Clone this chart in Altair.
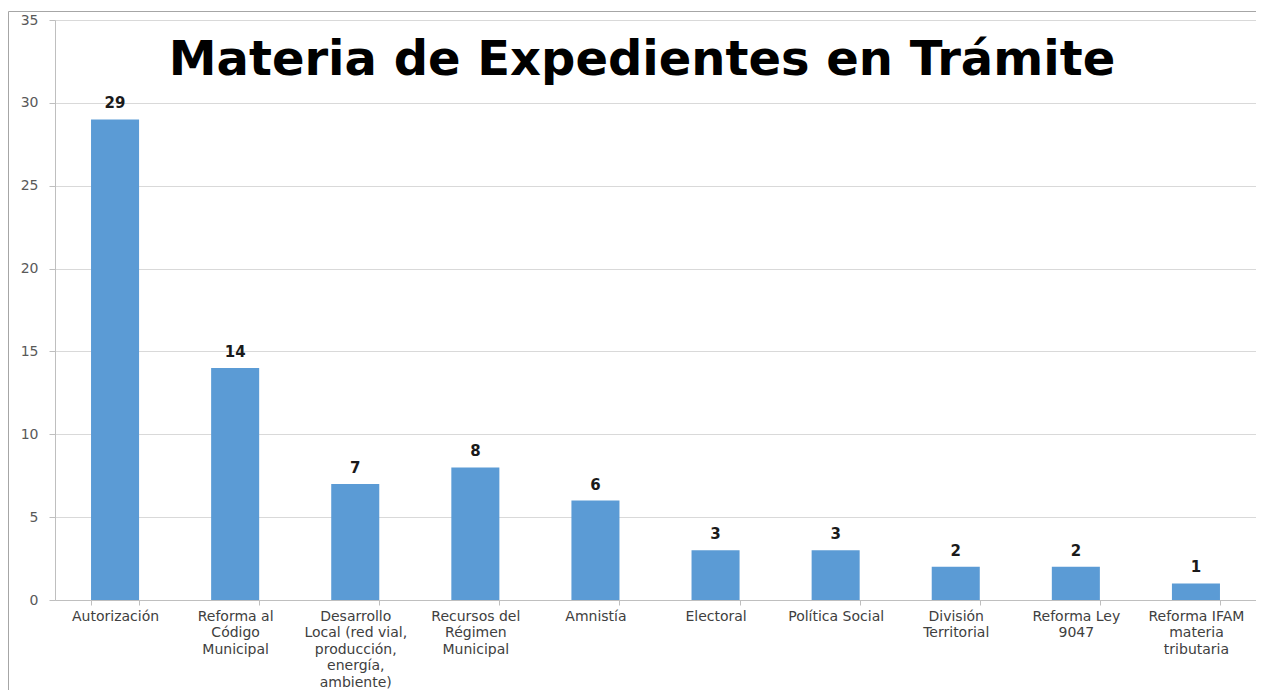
import altair as alt
import pandas as pd

categories = [
    "Autorización",
    "Reforma al|Código|Municipal",
    "Desarrollo|Local (red vial,|producción,|energía,|ambiente)",
    "Recursos del|Régimen|Municipal",
    "Amnistía",
    "Electoral",
    "Política Social",
    "División|Territorial",
    "Reforma Ley|9047",
    "Reforma IFAM|materia|tributaria",
]
values = [29, 14, 7, 8, 6, 3, 3, 2, 2, 1]
title_text = ["Materia de Expedientes en Trámite"]

df = pd.DataFrame({"cat": categories, "val": values})
W, H = 1201, 580
FONT = "DejaVu Sans"

x_enc = alt.X(
    "cat:N",
    sort=categories,
    title=None,
    scale=alt.Scale(paddingInner=0.6, paddingOuter=0.3),
    axis=alt.Axis(
        labelExpr="isValid(datum.value) ? split(datum.value, '|') : ''",
        labelAngle=0,
        labelFont=FONT,
        labelFontSize=14,
        labelColor="#404040",
        labelLineHeight=16.5,
        labelPadding=4,
        tickBand="extent",
        tickSize=5,
        tickColor="#bfbfbf",
        domainColor="#bfbfbf",
        labelLimit=200,
        grid=False,
    ),
)
y_enc = alt.Y(
    "val:Q",
    title=None,
    scale=alt.Scale(domain=[0, 35], nice=False),
    axis=alt.Axis(
        values=[0, 5, 10, 15, 20, 25, 30, 35],
        labelFont=FONT,
        labelFontSize=14,
        labelColor="#595959",
        labelPadding=11,
        tickSize=6,
        tickColor="#bfbfbf",
        domainColor="#bfbfbf",
        gridColor="#d9d9d9",
        grid=True,
    ),
)

base = alt.Chart(df)
bars = base.mark_bar(color="#5b9bd5").encode(x=x_enc, y=y_enc)
labels = base.mark_text(
    dy=-11, font=FONT, fontSize=15, fontWeight="bold", color="#1a1a1a", baseline="alphabetic"
).encode(x=alt.X("cat:N", sort=categories), y="val:Q", text="val:Q")

title = alt.Chart(pd.DataFrame({"t": title_text})).mark_text(
    font=FONT, fontSize=48, fontWeight="bold", color="#000000", baseline="alphabetic", align="center"
).encode(x=alt.value(587), y=alt.value(55), text="t:N")

frame = alt.Chart(pd.DataFrame({"a": [0]})).mark_rect(
    filled=False, stroke="#a6a6a6", strokeWidth=1
).encode(x=alt.value(-46.5), x2=alt.value(1400), y=alt.value(-8.5), y2=alt.value(900))

chart = alt.layer(frame, bars, labels, title).properties(
    width=W,
    height=H,
    autosize=alt.AutoSizeParams(type="none"),
    padding={"left": 47, "top": 12, "right": 0, "bottom": 90},
).configure_view(stroke=None).configure(background="white")

chart.save("out.html", embed_options={"renderer": "svg", "actions": False})
